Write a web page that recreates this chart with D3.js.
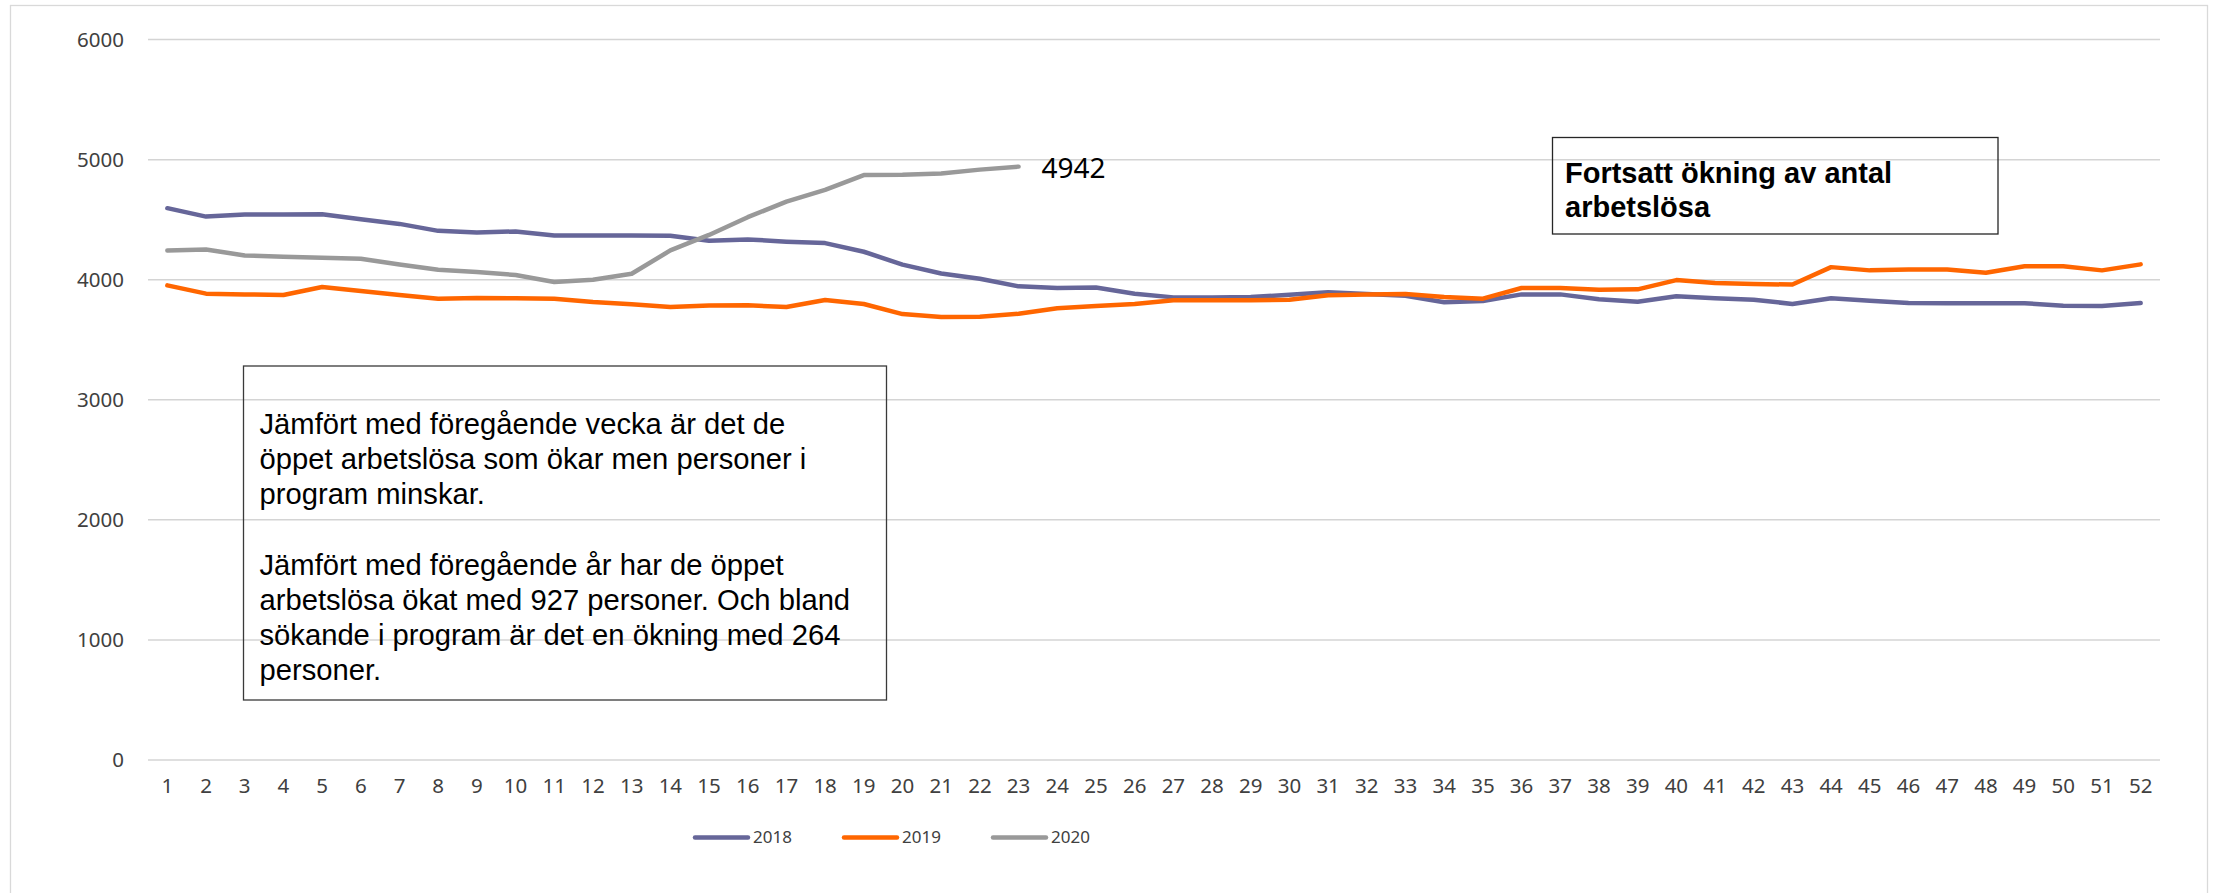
<!DOCTYPE html>
<html>
<head>
<meta charset="utf-8">
<script src="https://cdn.jsdelivr.net/npm/d3@7"></script>
<style>
  html, body { margin: 0; padding: 0; background: #fff; }
  svg { display: block; }
</style>
</head>
<body>
<svg id="chart" width="2216" height="893"></svg>
<script>
// ---- DATA ----
const weeks = d3.range(1, 53);
const yTicks = [0, 1000, 2000, 3000, 4000, 5000, 6000];
const seriesNames = ["2018", "2019", "2020"];
const seriesColors = ["#666699", "#FF6600", "#999999"];
const values2018 = [4596, 4526, 4543, 4543, 4546, 4504, 4465, 4407, 4393, 4402, 4368, 4368, 4368, 4366, 4324, 4336, 4317, 4305, 4233, 4126, 4052, 4008, 3945, 3931, 3935, 3884, 3853, 3853, 3856, 3875, 3895, 3881, 3867, 3812, 3823, 3878, 3878, 3837, 3817, 3862, 3845, 3834, 3798, 3846, 3825, 3807, 3805, 3805, 3805, 3784, 3782, 3806];
const values2019 = [3953, 3884, 3878, 3873, 3939, 3906, 3873, 3842, 3848, 3845, 3842, 3814, 3795, 3773, 3785, 3787, 3773, 3831, 3798, 3714, 3690, 3692, 3717, 3762, 3781, 3798, 3830, 3830, 3830, 3834, 3870, 3878, 3881, 3856, 3842, 3931, 3931, 3917, 3920, 3997, 3972, 3964, 3960, 4105, 4078, 4086, 4086, 4058, 4112, 4112, 4078, 4128];
const values2020 = [4244, 4252, 4202, 4191, 4183, 4175, 4127, 4083, 4064, 4039, 3981, 4000, 4050, 4244, 4373, 4521, 4650, 4749, 4872, 4874, 4885, 4917, 4942];
const lastLabel = "4942";
const box1Lines = [
  "Jämfört med föregående vecka är det de",
  "öppet arbetslösa som ökar men personer i",
  "program minskar.",
  "",
  "Jämfört med föregående år har de öppet",
  "arbetslösa ökat med 927 personer. Och bland",
  "sökande i program är det en ökning med 264",
  "personer."
];
const box2Lines = ["Fortsatt ökning av antal", "arbetslösa"];

// ---- LAYOUT ----
const svg = d3.select("#chart");
const allSeries = [values2018, values2019, values2020];

// outer chart border
svg.append("rect")
  .attr("x", 10.5).attr("y", 5.5).attr("width", 2197).attr("height", 900)
  .attr("fill", "#fff").attr("stroke", "#d9d9d9").attr("stroke-width", 1.3);

const x = d3.scaleBand().domain(weeks).range([148, 2160]);
const xc = d => x(d) + x.bandwidth() / 2;
const y = d3.scaleLinear().domain([0, 6000]).range([760, 39.6]);

// gridlines
svg.append("g").selectAll("line").data(yTicks).join("line")
  .attr("x1", 148).attr("x2", 2160)
  .attr("y1", d => y(d)).attr("y2", d => y(d))
  .attr("stroke", "#d4d4d4").attr("stroke-width", 1.5);

// y axis
const yAxis = svg.append("g").attr("transform", "translate(124,0)")
  .call(d3.axisLeft(y).tickValues(yTicks).tickSize(0).tickPadding(0).tickFormat(d3.format("d")));
yAxis.select(".domain").remove();
yAxis.selectAll("text")
  .attr("font-family", "Noto Sans, sans-serif").attr("font-size", 20.5)
  .attr("fill", "#404040");

// x axis
const xAxis = svg.append("g").attr("transform", "translate(0,778)")
  .call(d3.axisBottom(x).tickSize(0).tickPadding(0));
xAxis.select(".domain").remove();
xAxis.selectAll("text")
  .attr("font-family", "Noto Sans, sans-serif").attr("font-size", 20.5)
  .attr("fill", "#404040").attr("dy", "0.71em");

// lines
const line = d3.line().x((d, i) => xc(weeks[i])).y(d => y(d));
allSeries.forEach((vals, k) => {
  svg.append("path").datum(vals)
    .attr("d", line)
    .attr("fill", "none")
    .attr("stroke", seriesColors[k])
    .attr("stroke-width", 4.5)
    .attr("stroke-linejoin", "round")
    .attr("stroke-linecap", "round");
});

// data label for last 2020 value
const lastIdx = values2020.length - 1;
svg.append("text")
  .attr("x", xc(weeks[lastIdx]) + 23)
  .attr("y", y(values2020[lastIdx]) + 11)
  .attr("font-family", "Noto Sans, sans-serif").attr("font-size", 28)
  .attr("fill", "#000").text(lastLabel);

// legend
const legendX = [695, 844, 993];
const legend = svg.append("g");
seriesNames.forEach((name, k) => {
  legend.append("line")
    .attr("x1", legendX[k]).attr("x2", legendX[k] + 53)
    .attr("y1", 837.5).attr("y2", 837.5)
    .attr("stroke", seriesColors[k]).attr("stroke-width", 4.5)
    .attr("stroke-linecap", "round");
  legend.append("text")
    .attr("x", legendX[k] + 58).attr("y", 837.5).attr("dy", "0.35em")
    .attr("font-family", "Noto Sans, sans-serif").attr("font-size", 17)
    .attr("fill", "#404040").text(name);
});

// text box 1
svg.append("rect")
  .attr("x", 243.5).attr("y", 366).attr("width", 643).attr("height", 334)
  .attr("fill", "none").attr("stroke", "#3a3a3a").attr("stroke-width", 1.3);
const t1 = svg.append("text")
  .attr("font-family", "Liberation Sans, Arial, sans-serif").attr("font-size", 29.2)
  .attr("fill", "#000");
box1Lines.forEach((s, i) => {
  t1.append("tspan").attr("x", 259.5).attr("y", 434 + i * 35.2).text(s);
});

// text box 2
svg.append("rect")
  .attr("x", 1552.5).attr("y", 137.5).attr("width", 445.5).attr("height", 96.5)
  .attr("fill", "none").attr("stroke", "#262626").attr("stroke-width", 1.3);
const t2 = svg.append("text")
  .attr("font-family", "Liberation Sans, Arial, sans-serif").attr("font-size", 29)
  .attr("font-weight", "bold").attr("fill", "#000");
box2Lines.forEach((s, i) => {
  t2.append("tspan").attr("x", 1565).attr("y", 183.3 + i * 33.4).text(s);
});
</script>
</body>
</html>
